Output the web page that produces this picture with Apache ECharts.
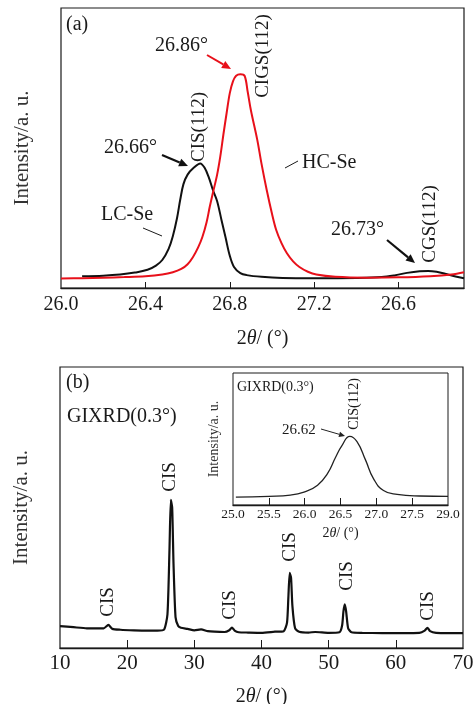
<!DOCTYPE html>
<html lang="en">
<head>
<meta charset="UTF-8">
<title>GIXRD patterns</title>
<script src="https://cdn.jsdelivr.net/npm/echarts@6/dist/echarts.min.js"></script>
<style>
  html, body { margin: 0; padding: 0; background: #fff; }
  #chart { width: 474px; height: 704px; }
</style>
</head>
<body>
<div id="chart"></div>
<script>
// ---- panel (a): (112) peak region ----
const aTickVals = [26.0, 26.4, 26.8, 27.2, 27.6];
const aTickLabels = ['26.0', '26.4', '26.8', '27.2', '26.6'];

const lcX = [26.10, 26.20, 26.28, 26.35, 26.41, 26.45, 26.48, 26.51, 26.53, 26.55, 26.565, 26.58, 26.60, 26.63, 26.66, 26.68, 26.70, 26.72, 26.74, 26.76, 26.78, 26.80, 26.82, 26.85, 26.88, 26.95, 27.05, 27.20, 27.40, 27.52, 27.58, 27.64, 27.70, 27.74, 27.78, 27.83, 27.87, 27.91];
const lcY = [4.2, 4.4, 4.8, 5.5, 6.5, 8, 10, 14, 18.5, 25, 31.5, 37, 40.5, 43, 44.5, 43, 39.6, 35, 31, 24.5, 18, 11.5, 7.5, 5.3, 4.6, 4.0, 3.6, 3.5, 3.6, 3.9, 4.5, 5.4, 6.0, 6.1, 5.8, 4.9, 4.1, 3.5];

const hcX = [26.00, 26.10, 26.20, 26.30, 26.40, 26.48, 26.53, 26.57, 26.60, 26.625, 26.65, 26.67, 26.69, 26.705, 26.72, 26.74, 26.755, 26.77, 26.785, 26.80, 26.815, 26.83, 26.85, 26.87, 26.885, 26.90, 26.93, 26.95, 26.975, 27.00, 27.02, 27.045, 27.07, 27.10, 27.13, 27.17, 27.21, 27.30, 27.45, 27.60, 27.75, 27.85, 27.91];
const hcY = [3.4, 3.5, 3.7, 3.9, 4.2, 4.8, 5.6, 6.8, 8.5, 11, 14.5, 18.2, 23.5, 29, 34, 40.5, 47, 55, 62.5, 69.6, 73.8, 75.8, 76.3, 75.8, 70, 63.5, 53, 44.5, 35, 26.5, 20.7, 16, 12.5, 9.5, 7.5, 5.8, 4.8, 4.0, 3.7, 3.8, 4.2, 4.8, 5.6];

// ---- panel (b): full scan ----
const bTickVals = [10, 20, 30, 40, 50, 60, 70];
const bX = [10, 12, 14, 15.5, 16.5, 17.2, 17.8, 19, 21, 23, 24.5, 25.5, 26.0, 26.3, 26.5, 26.7, 26.9, 27.2, 27.6, 28, 29, 30, 31, 32, 33, 34.5, 35.2, 35.6, 36.0, 36.6, 38, 40, 42, 43.3, 43.8, 44.0, 44.2, 44.4, 44.6, 45.0, 45.6, 47, 48, 50, 51.6, 52.0, 52.2, 52.4, 52.6, 52.9, 53.4, 55, 58, 61, 63.5, 64.3, 64.7, 65.1, 66, 68, 70];
const bY = [7.8, 7.4, 7.0, 7.0, 7.0, 8.2, 6.8, 6.5, 6.3, 6.2, 6.2, 6.6, 12, 35, 52.7, 50, 30, 11, 7.8, 7.2, 6.8, 6.3, 6.6, 6.0, 5.8, 5.7, 6.3, 7.3, 6.2, 5.6, 5.5, 5.4, 5.8, 6.0, 9, 18, 26.7, 25, 15, 7, 5.8, 5.5, 5.7, 5.4, 5.6, 8, 13, 15.5, 13, 7, 5.6, 5.4, 5.3, 5.3, 5.4, 6.2, 7.2, 6.0, 5.4, 5.3, 5.3];

// ---- inset ----
const insTickVals = [25.0, 25.5, 26.0, 26.5, 27.0, 27.5, 28.0];
const insTickLabels = ['25.0', '25.5', '26.0', '26.5', '27.0', '27.5', '29.0'];
const insX = [25.04, 25.5, 25.8, 25.99, 26.18, 26.32, 26.43, 26.52, 26.63, 26.73, 26.85, 26.96, 27.10, 27.29, 27.6, 28.0];
const insY = [6, 6.6, 7.5, 9.8, 15, 24, 36, 45, 52, 48, 34, 20, 11, 8, 6.8, 6.5];

const FONT = '"Liberation Serif", "DejaVu Serif", serif';
const INK = '#1a1a1a';

const zip = (xs, ys) => xs.map((x, i) => [x, ys[i]]);
const labelFrom = (vals, labels) => v => {
  const i = vals.findIndex(t => Math.abs(t - v) < 1e-6);
  return i >= 0 ? labels[i] : '';
};

function xAxisFor(gridIndex, min, max, vals, labels, tickVals, size, margin, tickLen, nameGap, nameSize) {
  return {
    type: 'value', gridIndex, min, max,
    name: '2{i|θ}/ (°)', nameLocation: 'middle', nameGap, nameMoveOverlap: false,
    nameTextStyle: { fontFamily: FONT, fontSize: nameSize, color: INK,
      rich: { i: { fontFamily: FONT, fontSize: nameSize, fontStyle: 'italic', color: INK } } },
    axisLine: { show: true, onZero: false, lineStyle: { color: INK, width: 1.4 } },
    axisTick: { show: true, inside: true, length: tickLen, customValues: tickVals, lineStyle: { color: INK, width: 1 } },
    axisLabel: { show: true, customValues: vals, formatter: labelFrom(vals, labels), fontFamily: FONT, fontSize: size, color: INK, margin },
    splitLine: { show: false }
  };
}

function yAxisFor(gridIndex, nameGap, nameSize) {
  return {
    type: 'value', gridIndex, min: 0, max: 100,
    name: 'Intensity/a. u.', nameLocation: 'middle', nameRotate: 90, nameGap, nameMoveOverlap: false,
    nameTextStyle: { fontFamily: FONT, fontSize: nameSize, color: '#333' },
    axisLine: { show: false }, axisTick: { show: false }, axisLabel: { show: false }, splitLine: { show: false }
  };
}

function txt(x, y, text, size, opts) {
  opts = opts || {};
  return {
    type: 'text', x, y, rotation: opts.rot ? Math.PI / 2 : 0, z: 10,
    style: { text, font: size + 'px ' + FONT, fill: opts.color || INK,
      textAlign: opts.align || (opts.rot ? 'center' : 'left'), textVerticalAlign: 'middle' }
  };
}

function arrow(x1, y1, x2, y2, color, width, head) {
  const dx = x2 - x1, dy = y2 - y1, len = Math.hypot(dx, dy);
  const ux = dx / len, uy = dy / len;
  const bx = x2 - ux * head, by = y2 - uy * head;
  const w = head * 0.45;
  return {
    type: 'group', z: 10,
    children: [
      { type: 'line', shape: { x1, y1, x2: bx, y2: by }, style: { stroke: color, lineWidth: width } },
      { type: 'polygon', shape: { points: [[x2, y2], [bx - uy * w, by + ux * w], [bx + uy * w, by - ux * w]] }, style: { fill: color } }
    ]
  };
}

function seg(x1, y1, x2, y2) {
  return { type: 'line', z: 10, shape: { x1, y1, x2, y2 }, style: { stroke: INK, lineWidth: 1 } };
}

const chart = echarts.init(document.getElementById('chart'), null, { renderer: 'canvas' });

const gridBase = { show: true, borderColor: INK, borderWidth: 1.2, backgroundColor: '#fff', containLabel: false, outerBoundsMode: 'none' };

const option = {
  animation: false,
  backgroundColor: '#fff',
  grid: [
    Object.assign({ left: 61, top: 8, width: 403, height: 280 }, gridBase),
    Object.assign({ left: 60, top: 367, width: 403, height: 281 }, gridBase),
    Object.assign({ left: 233, top: 373, width: 215, height: 132 }, gridBase, { borderWidth: 1 })
  ],
  xAxis: [
    xAxisFor(0, 26.0, 27.91, aTickVals, aTickLabels, [26.4, 26.8, 27.2, 27.6], 20, 7, 6, 41, 20),
    xAxisFor(1, 10, 70, bTickVals, bTickVals.map(String), [20, 30, 40, 50, 60], 21, 5, 8, 39, 20),
    xAxisFor(2, 25, 28, insTickVals, insTickLabels, [25.5, 26.0, 26.5, 27.0, 27.5], 13.5, 2, 7, 21, 14)
  ],
  yAxis: [
    yAxisFor(0, 28, 21),
    yAxisFor(1, 28, 21),
    yAxisFor(2, 12, 14)
  ],
  series: [
    { name: 'LC-Se', type: 'line', xAxisIndex: 0, yAxisIndex: 0, data: zip(lcX, lcY), smooth: 0.35, showSymbol: false, lineStyle: { color: '#111', width: 2 } },
    { name: 'HC-Se', type: 'line', xAxisIndex: 0, yAxisIndex: 0, data: zip(hcX, hcY), smooth: 0.35, showSymbol: false, lineStyle: { color: '#e8101a', width: 2 } },
    { name: 'GIXRD', type: 'line', xAxisIndex: 1, yAxisIndex: 1, data: zip(bX, bY), smooth: 0.2, showSymbol: false, lineStyle: { color: '#111', width: 2.2 } },
    { name: 'inset', type: 'line', xAxisIndex: 2, yAxisIndex: 2, data: zip(insX, insY), smooth: 0.5, showSymbol: false, lineStyle: { color: '#222', width: 1.3 } }
  ],
  graphic: [
    // panel (a)
    txt(66, 25, '(a)', 20),
    txt(155, 46, '26.86°', 20),
    arrow(207, 55, 231, 69, '#e8101a', 2, 9),
    txt(263, 56, 'CIGS(112)', 19, { rot: true }),
    txt(104, 148, '26.66°', 20),
    arrow(162, 155, 188, 166, '#111', 2.2, 9),
    txt(199, 127, 'CIS(112)', 19, { rot: true }),
    txt(302, 163, 'HC-Se', 20),
    seg(285, 168, 298, 161),
    txt(101, 215, 'LC-Se', 20),
    seg(143, 228, 162, 236),
    txt(331, 230, '26.73°', 20),
    arrow(387, 240, 415, 263, '#111', 2.2, 9),
    txt(430, 224, 'CGS(112)', 19, { rot: true }),
    // panel (b)
    txt(66, 383, '(b)', 20),
    txt(67, 417, 'GIXRD(0.3°)', 20),
    txt(108, 602, 'CIS', 19, { rot: true }),
    txt(170, 477, 'CIS', 19, { rot: true }),
    txt(230, 605, 'CIS', 19, { rot: true }),
    txt(290, 547, 'CIS', 19, { rot: true }),
    txt(347, 576, 'CIS', 19, { rot: true }),
    txt(428, 606, 'CIS', 19, { rot: true }),
    // inset
    txt(237, 387, 'GIXRD(0.3°)', 14),
    txt(354, 404, 'CIS(112)', 14, { rot: true }),
    txt(282, 430, '26.62', 15),
    arrow(321, 429, 345, 436, '#222', 1, 6)
  ]
};

chart.setOption(option);
</script>
</body>
</html>
